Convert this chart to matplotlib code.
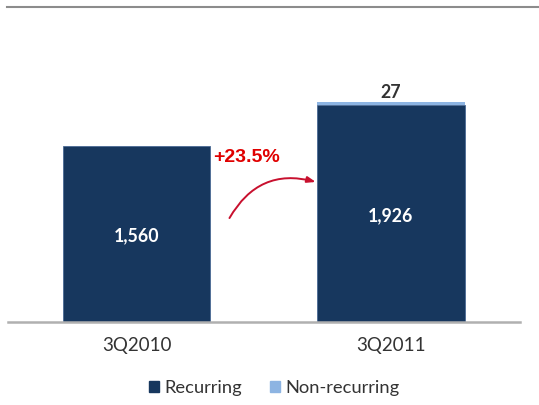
import numpy as np
import matplotlib.pyplot as plt
from matplotlib.lines import Line2D
from matplotlib.patches import Patch

periods = ['3Q2010', '3Q2011']
recurring = [1560, 1926]
non_recurring = [0, 27]
growth_label = '+23.5%'

navy = '#17375E'
light_blue = '#8DB4E2'

plt.rcParams['font.family'] = ['Lato', 'DejaVu Sans']

fig = plt.figure(figsize=(5.39, 4.05), dpi=100)
W, H = 539, 405
# axes placed in pixels: baseline at y=322, x from 8 to 520
ax = fig.add_axes([8 / W, 83 / H, 512 / W, 282 / H])

x = np.arange(len(periods))
width = 0.578
ax.bar(x, recurring, width, color=navy, edgecolor='#4a6a94', linewidth=0.6, zorder=2)
ax.bar(x, non_recurring, width, bottom=recurring, color=light_blue, linewidth=0, zorder=2)

ax.set_xlim(-0.505, 1.507)
ax.set_ylim(0, 2500)

for xi, r, n in zip(x, recurring, non_recurring):
    ax.text(xi, r * 0.5 - 17, f'{r:,}', ha='center', va='center',
            color='white', fontsize=12.8, fontweight='bold')
    if n:
        ax.text(xi, r + n + 86, f'{n}', ha='center', va='center',
                color='#333333', fontsize=12.8, fontweight='bold')

# growth annotation
ax.text(0.3, 1454, growth_label, color='#E00000', fontsize=14, fontweight='bold',
        ha='left', va='center', family=['Liberation Sans', 'DejaVu Sans'])
ax.annotate('', xy=(0.715, 1235), xytext=(0.36, 900),
            arrowprops=dict(arrowstyle='-|>,head_length=0.5,head_width=0.18',
                            color='#C8102E', lw=1.4,
                            connectionstyle='arc3,rad=-0.4'))

ax.set_xticks(x)
ax.set_xticklabels(periods, fontsize=13.5, color='#333333')
ax.tick_params(axis='x', length=0, pad=11)
ax.set_yticks([])
for s in ['top', 'left', 'right']:
    ax.spines[s].set_visible(False)
ax.spines['bottom'].set_color('#b0b0b0')
ax.spines['bottom'].set_linewidth(1.8)

# rule across the top
fig.add_artist(Line2D([7 / W, 1.0], [1 - 7 / H, 1 - 7 / H], color='#8c8c8c', lw=1.5))

handles = [Patch(color=navy), Patch(color=light_blue)]
fig.legend(handles, ['Recurring', 'Non-recurring'], loc='center',
           bbox_to_anchor=(274 / W, 1 - 388 / H), ncol=2, frameon=False,
           fontsize=13.2, handlelength=0.55, handleheight=0.55, handletextpad=0.3,
           columnspacing=1.5, labelcolor='#333333')

fig.savefig('out.png', dpi=100)
